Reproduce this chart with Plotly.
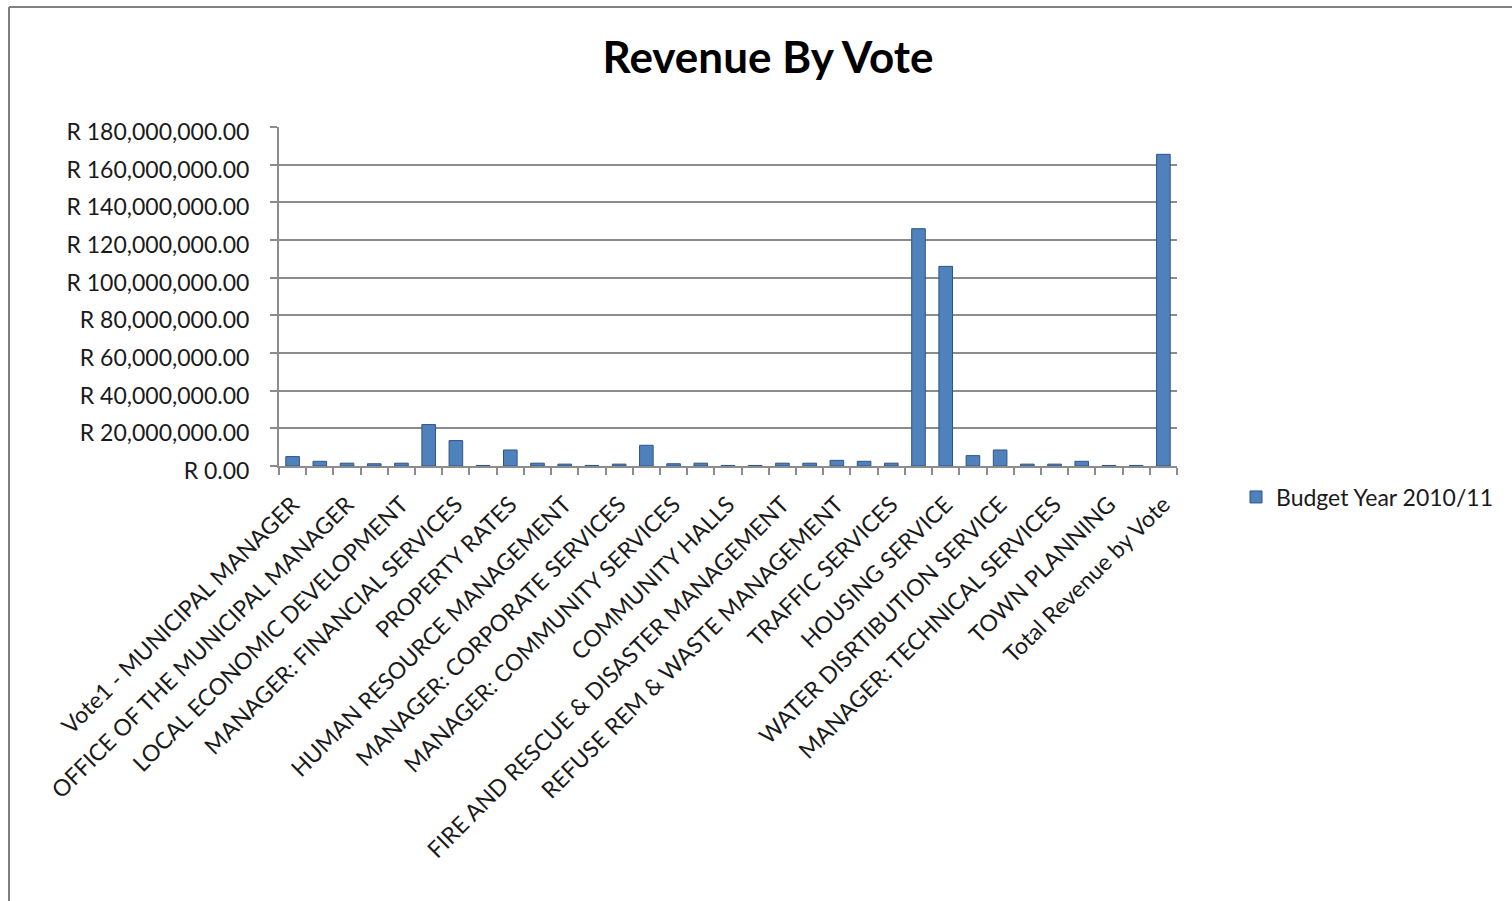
import plotly.graph_objects as go

# 33 bars (every other category label is shown, as in the reference)
values = [5.0e6, 2.5e6, 1.5e6, 1.2e6, 1.5e6, 22.0e6, 13.5e6, 0.3e6, 8.5e6, 1.5e6,
          1.0e6, 0.3e6, 1.0e6, 11.0e6, 1.2e6, 1.5e6, 0.3e6, 0.3e6, 1.5e6, 1.5e6,
          3.0e6, 2.5e6, 1.5e6, 126.0e6, 106.0e6, 5.5e6, 8.5e6, 1.0e6, 1.0e6, 2.5e6,
          0.3e6, 0.3e6, 165.5e6]
shown_labels = [
    "Vote1 - MUNICIPAL MANAGER",
    "OFFICE OF THE MUNICIPAL MANAGER",
    "LOCAL ECONOMIC DEVELOPMENT",
    "MANAGER: FINANCIAL SERVICES",
    "PROPERTY RATES",
    "HUMAN RESOURCE MANAGEMENT",
    "MANAGER: CORPORATE SERVICES",
    "MANAGER: COMMUNITY SERVICES",
    "COMMUNITY HALLS",
    "FIRE AND RESCUE & DISASTER MANAGEMENT",
    "REFUSE REM & WASTE MANAGEMENT",
    "TRAFFIC SERVICES",
    "HOUSING SERVICE",
    "WATER DISRTIBUTION SERVICE",
    "MANAGER: TECHNICAL SERVICES",
    "TOWN PLANNING",
    "Total Revenue by Vote",
]
series_name = "Budget Year 2010/11"
title_text = "Revenue By Vote"

x_pos = list(range(len(values)))
label_pos = x_pos[::2]

FONT = "Lato, 'Open Sans', sans-serif"
GRID = "#8c8c8c"

fig = go.Figure()
fig.add_trace(go.Bar(
    x=x_pos, y=values, name=series_name, width=0.5,
    marker=dict(color="#4F81BD", line=dict(color="#2f5586", width=1)),
    showlegend=True,
))

L, R, T, B = 279, 1512 - 1177, 127, 901 - 466
W = 1512 - L - R
H = 901 - T - B

fig.update_layout(
    width=1512, height=901,
    margin=dict(l=L, r=R, t=T, b=B, autoexpand=False),
    paper_bgcolor="white", plot_bgcolor="white",
    font=dict(family=FONT, size=23, color="#1a1a1a"),
    title=dict(text="<b>" + title_text + "</b>", x=768 / 1512, xanchor="center",
               y=1 - 58 / 901, yanchor="middle", yref="container",
               font=dict(family=FONT, size=44, color="black")),
    bargap=0.5,
    showlegend=True,
    legend=dict(x=(1236 - L) / W, xanchor="left", y=(466 - 497) / H, yanchor="middle",
                font=dict(family=FONT, size=23, color="#1a1a1a"),
                bgcolor="rgba(0,0,0,0)", itemwidth=30),
    xaxis=dict(
        range=[-0.5, len(values) - 0.5],
        tickmode="array", tickvals=label_pos, ticktext=shown_labels,
        tickangle=-45, ticks="", showgrid=False,
        showline=True, linecolor=GRID, linewidth=2,
        ticklabelstandoff=14,
        tickfont=dict(family=FONT, size=23, color="#1a1a1a"),
        minor=dict(ticks="outside", tick0=-0.5, dtick=1, ticklen=7,
                   tickcolor=GRID, tickwidth=2, showgrid=False),
        zeroline=False, fixedrange=True,
    ),
    yaxis=dict(
        range=[0, 180e6], dtick=20e6, tick0=0,
        tickprefix="R ", tickformat=",.2f",
        showgrid=True, gridcolor=GRID, gridwidth=2,
        showline=True, linecolor=GRID, linewidth=2,
        ticks="outside", ticklen=7, tickcolor=GRID, tickwidth=2,
        ticklabelstandoff=16, ticklabelshift=5,
        tickfont=dict(family=FONT, size=23, color="#1a1a1a"),
        zeroline=False, fixedrange=True,
    ),
)

# outer chart frame (top and left edges visible in the reference)
fig.add_shape(type="line", xref="paper", yref="paper",
              x0=(9 - L) / W, x1=(1512 - L) / W, y0=(466 - 7) / H, y1=(466 - 7) / H,
              line=dict(color="#808080", width=2))
fig.add_shape(type="line", xref="paper", yref="paper",
              x0=(9 - L) / W, x1=(9 - L) / W, y0=(466 - 7) / H, y1=(466 - 905) / H,
              line=dict(color="#808080", width=2))

fig.write_html("out.html")
